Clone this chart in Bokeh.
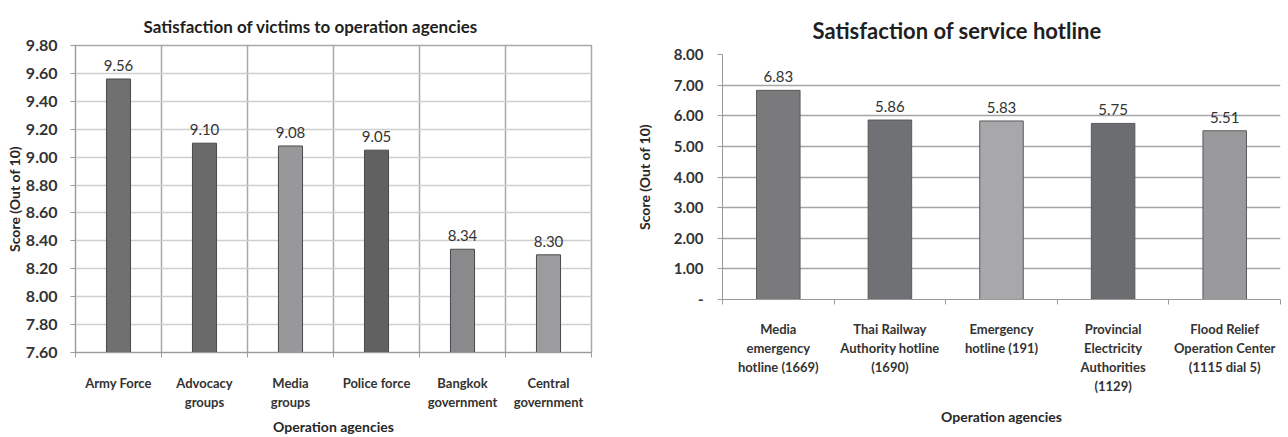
from bokeh.plotting import figure
from bokeh.models import FixedTicker, Range1d, ColumnDataSource, CustomJSTickFormatter
from bokeh.layouts import row, column
from bokeh.embed import file_html
from bokeh.resources import INLINE
from bokeh.core.properties import value

# ---- data ----
left_title = "Satisfaction of victims to operation agencies"
left_categories = ["Army Force", "Advocacy\ngroups", "Media\ngroups", "Police force",
                   "Bangkok\ngovernment", "Central\ngovernment"]
left_values = [9.56, 9.10, 9.08, 9.05, 8.34, 8.30]
left_colors = ["#707070", "#6a6a6a", "#98989a", "#616161", "#8a8a8c", "#9c9c9e"]
left_ticks = [7.6, 7.8, 8.0, 8.2, 8.4, 8.6, 8.8, 9.0, 9.2, 9.4, 9.6, 9.8]

right_title = "Satisfaction of service hotline"
right_categories = ["Media\nemergency\nhotline (1669)", "Thai Railway\nAuthority hotline\n(1690)",
                    "Emergency\nhotline (191)", "Provincial\nElectricity\nAuthorities\n(1129)",
                    "Flood Relief\nOperation Center\n(1115 dial 5)"]
right_values = [6.83, 5.86, 5.83, 5.75, 5.51]
right_colors = ["#7a7a7c", "#707174", "#a8a8aa", "#6c6d70", "#9a9a9c"]
right_ticks = [0, 1, 2, 3, 4, 5, 6, 7, 8]

x_title = "Operation agencies"
y_title = "Score (Out of 10)"

FONT = "Lato"


def style_common(p):
    p.title.text_font = FONT
    p.title.text_font_style = "bold"
    p.title.text_color = "#1f1f1f"
    p.title.align = "left"
    for ax in (p.xaxis[0], p.yaxis[0]):
        ax.major_label_text_font = FONT
        ax.axis_label_text_font = FONT
        ax.axis_label_text_font_style = "bold"
        ax.axis_label_text_font_size = "14px"
        ax.axis_label_text_color = "#262626"
        ax.axis_line_color = "#9a9a9a"
        ax.major_tick_line_color = "#9a9a9a"
        ax.minor_tick_line_color = "#9a9a9a"
    p.yaxis.major_label_text_font_style = "bold"
    p.yaxis.major_label_text_color = "#333333"
    p.xaxis.major_label_text_font_size = "13px"
    p.xaxis.major_label_text_font_style = "bold"
    p.xaxis.major_label_text_color = "#333333"
    p.yaxis.minor_tick_line_color = None
    p.yaxis.major_tick_in = 0
    p.yaxis.major_tick_out = 5
    p.xaxis.major_tick_in = 0
    p.xaxis.major_tick_out = 0
    p.xaxis.minor_tick_in = 0
    p.xaxis.minor_tick_out = 5


# ---- left chart ----
nl = len(left_values)
lx = [i + 0.5 for i in range(nl)]
lsrc = ColumnDataSource(dict(x=lx, top=left_values, color=left_colors,
                             label=["%.2f" % v for v in left_values]))
p1 = figure(width=610, height=437, output_backend="svg", toolbar_location=None,
            x_range=Range1d(0, nl), y_range=Range1d(left_ticks[0], left_ticks[-1]),
            title=left_title, min_border_left=75, min_border_right=19,
            min_border_top=45, min_border_bottom=81)
p1.vbar(x="x", top="top", bottom=left_ticks[0], width=0.28, source=lsrc,
        fill_color="color", line_color="#4a4a4a", line_width=1)
p1.text(x="x", y="top", text="label", source=lsrc, text_align="center",
        text_baseline="bottom", y_offset=-8, text_font=value(FONT),
        text_font_size="15px", text_color="#333333")
style_common(p1)
p1.title.text_font_size = "17px"
p1.title.offset = 68
p1.title.standoff = 18
p1.xaxis.ticker = FixedTicker(ticks=lx, minor_ticks=list(range(nl + 1)))
p1.xaxis.major_label_overrides = {x: c for x, c in zip(lx, left_categories)}
p1.xaxis.major_label_standoff = 17
p1.xaxis.axis_label = x_title
p1.xaxis.axis_label_standoff = 5
p1.yaxis.ticker = FixedTicker(ticks=left_ticks)
p1.yaxis.formatter = CustomJSTickFormatter(code="return tick.toFixed(2);")
p1.yaxis.major_label_text_font_size = "16px"
p1.yaxis.major_label_standoff = 13
p1.yaxis.axis_label = y_title
p1.yaxis.axis_label_standoff = 0
p1.xgrid.ticker = FixedTicker(ticks=list(range(nl + 1)))
p1.xgrid.grid_line_color = "#a8a8a8"
p1.xgrid.grid_line_width = 1.5
p1.ygrid.grid_line_color = "#cfcfcf"
p1.ygrid.grid_line_width = 1.5
p1.outline_line_color = "#a8a8a8"
p1.outline_line_width = 1.5

# ---- right chart ----
nr = len(right_values)
rx = [i + 0.5 for i in range(nr)]
rsrc = ColumnDataSource(dict(x=rx, top=right_values, color=right_colors,
                             label=["%.2f" % v for v in right_values]))
p2 = figure(width=678, height=437, output_backend="svg", toolbar_location=None,
            x_range=Range1d(0, nr), y_range=Range1d(right_ticks[0], right_ticks[-1]),
            title=right_title, min_border_left=112, min_border_right=8,
            min_border_top=54, min_border_bottom=138)
p2.vbar(x="x", top="top", bottom=0, width=0.39, source=rsrc,
        fill_color="color", line_color="#5a5a5a", line_width=1)
p2.text(x="x", y="top", text="label", source=rsrc, text_align="center",
        text_baseline="bottom", y_offset=-8, text_font=value(FONT),
        text_font_size="15px", text_color="#333333")
style_common(p2)
p2.title.text_font_size = "22px"
p2.title.offset = 90
p2.title.standoff = 22
p2.xaxis.ticker = FixedTicker(ticks=rx, minor_ticks=list(range(nr + 1)))
p2.xaxis.major_label_overrides = {x: c for x, c in zip(rx, right_categories)}
p2.xaxis.major_label_standoff = 16
p2.xaxis.axis_label = x_title
p2.xaxis.axis_label_standoff = 11
p2.yaxis.ticker = FixedTicker(ticks=right_ticks)
p2.yaxis.formatter = CustomJSTickFormatter(code="return tick == 0 ? '-' : tick.toFixed(2);")
p2.yaxis.major_label_text_font_size = "15px"
p2.yaxis.major_label_standoff = 14
p2.yaxis.axis_label = y_title
p2.yaxis.axis_label_standoff = 18
p2.xgrid.grid_line_color = None
p2.ygrid.grid_line_color = "#a6a6a6"
p2.ygrid.grid_line_width = 1.5
p2.outline_line_color = None

layout = row(column(p1), column(p2))
open("out.html", "w").write(file_html(layout, INLINE))
